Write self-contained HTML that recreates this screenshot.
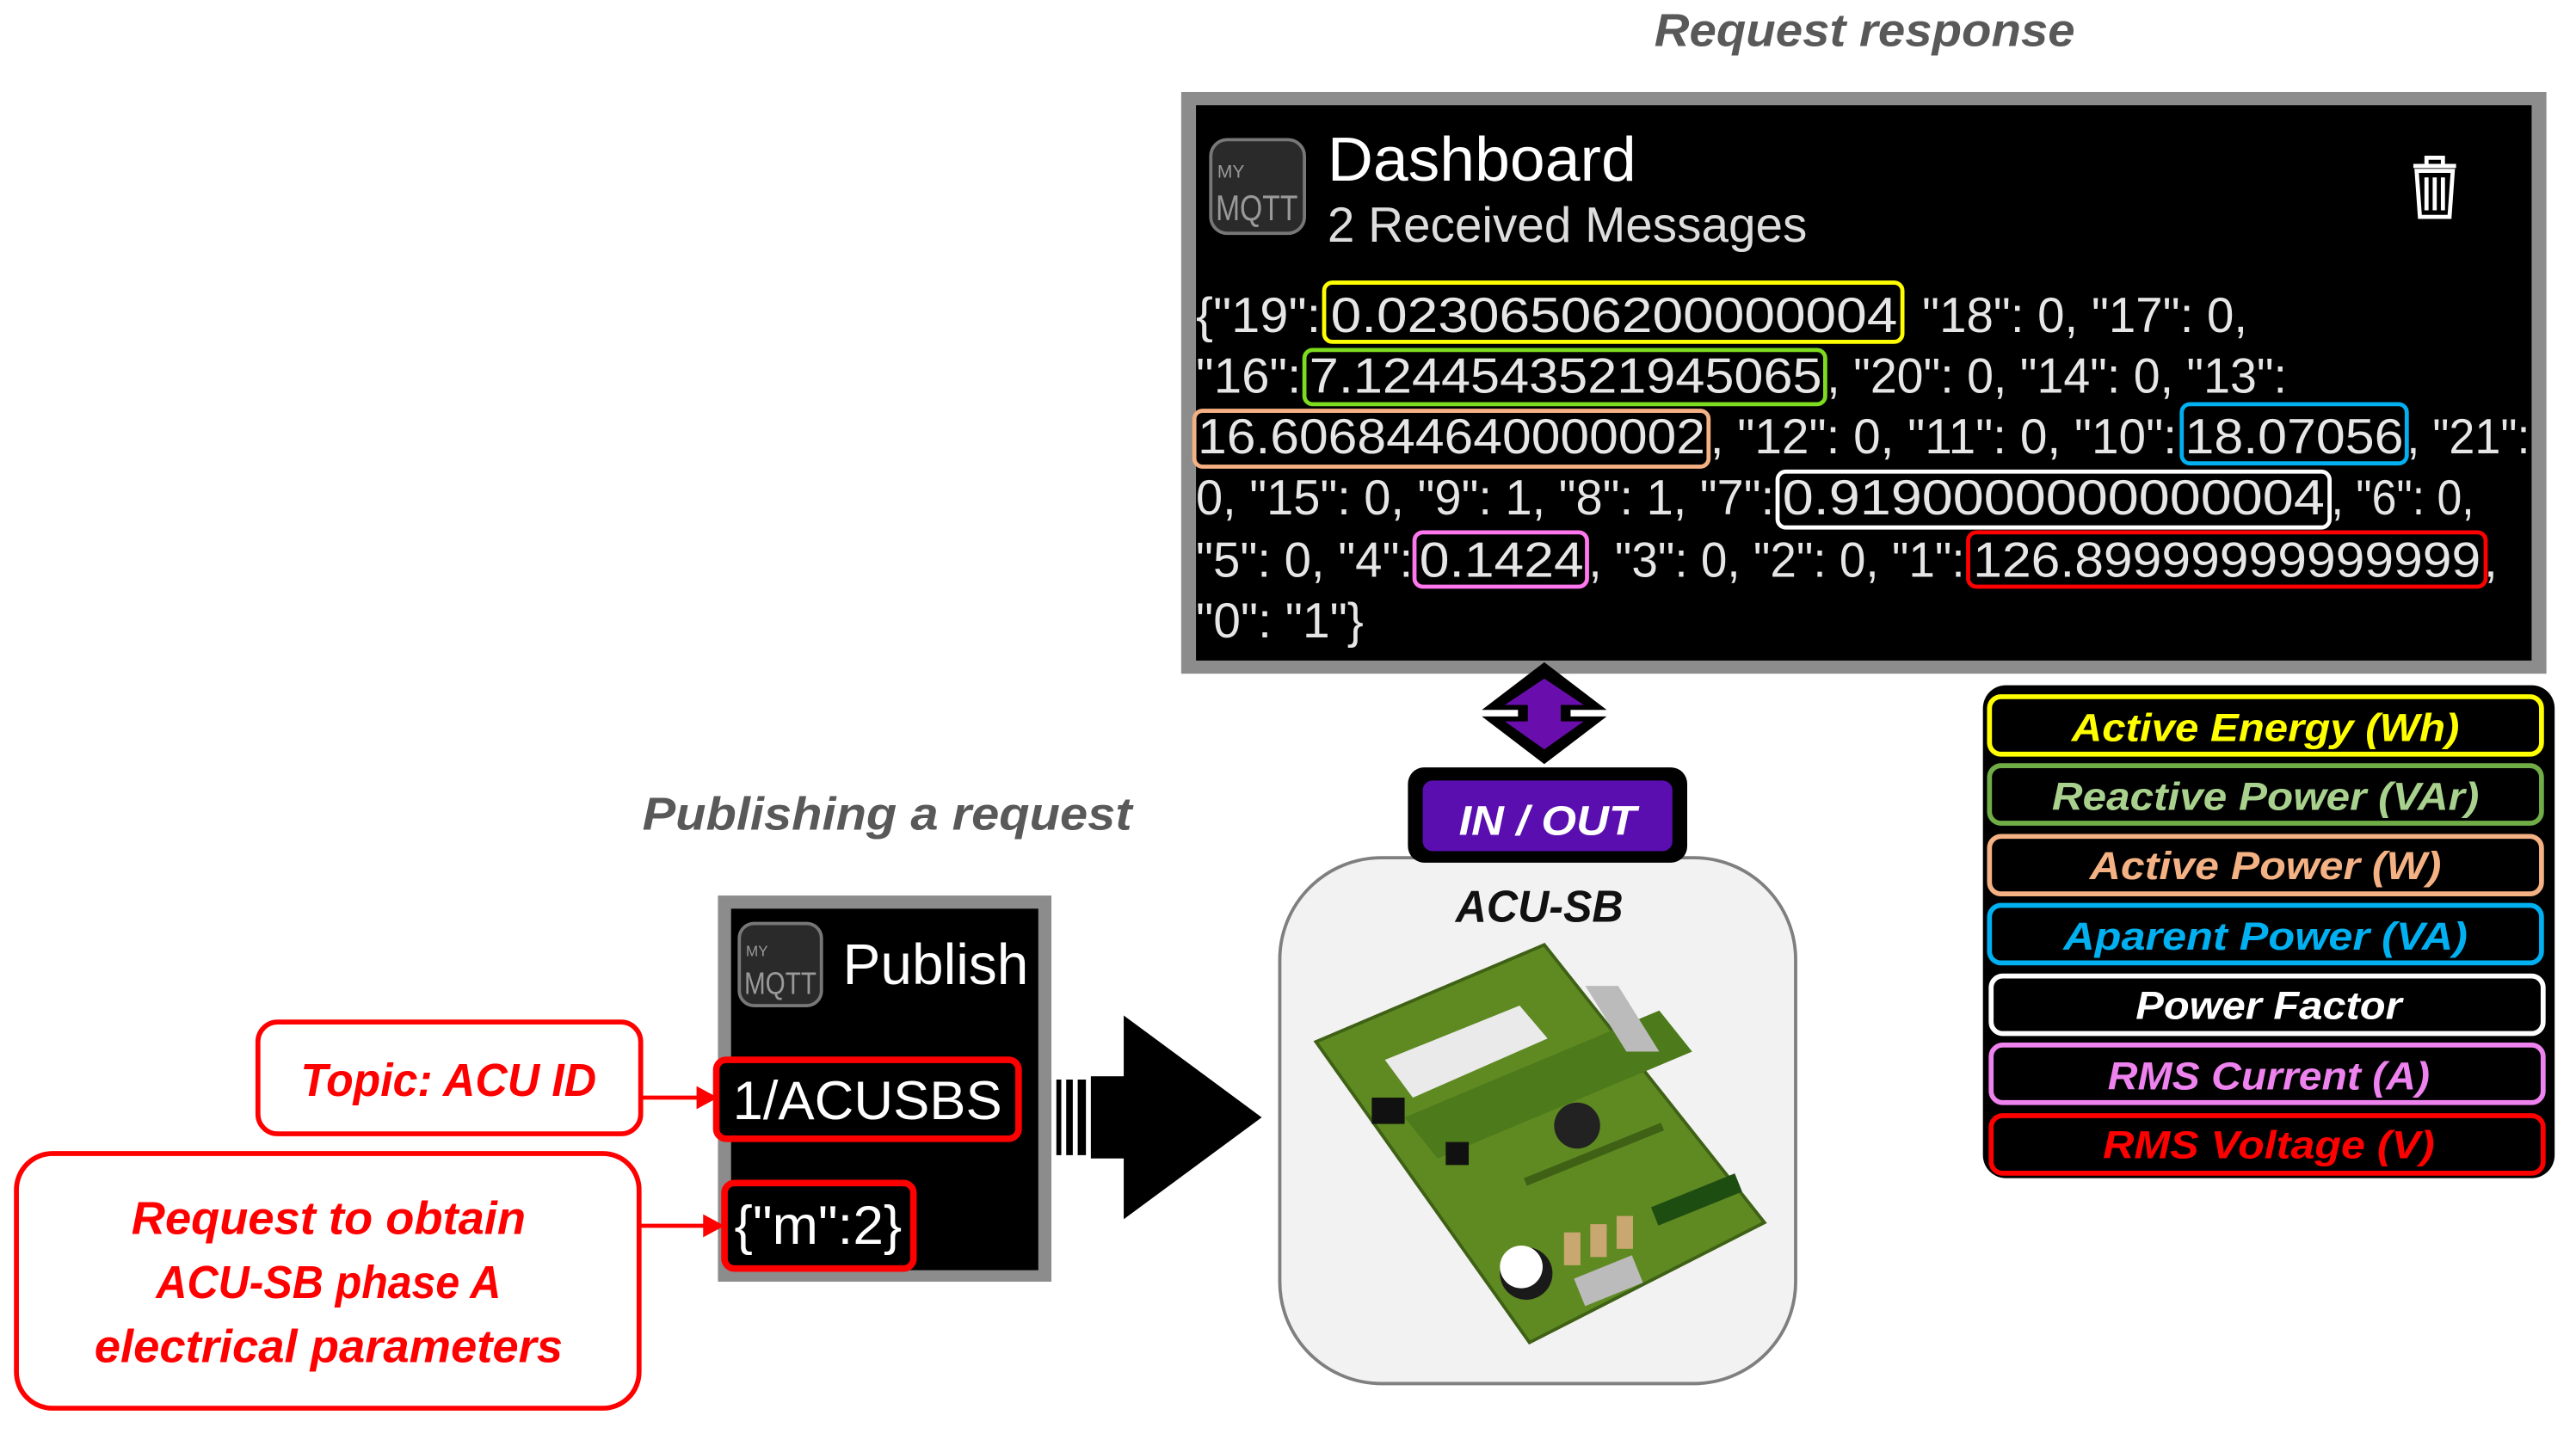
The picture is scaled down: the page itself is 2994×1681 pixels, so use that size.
<!DOCTYPE html>
<html><head><meta charset="utf-8"><style>
html,body{margin:0;padding:0;background:#fff;}
svg{display:block;}
.t{font-family:"Liberation Sans",sans-serif;}
.bi{font-family:"Liberation Sans",sans-serif;font-weight:bold;font-style:italic;}
.j{font-family:"Liberation Sans",sans-serif;font-size:30px;fill:#e6e6e6;}
</style></head><body>
<svg width="2994" height="1681" viewBox="0 0 1568 880" preserveAspectRatio="none" xmlns="http://www.w3.org/2000/svg">
<rect width="1568" height="880" fill="#fff"/>
<!-- Titles -->
<text class="bi" x="1135" y="28" font-size="28" fill="#595959" text-anchor="middle" textLength="256" lengthAdjust="spacingAndGlyphs">Request response</text>
<text class="bi" x="540" y="505" font-size="28" fill="#595959" text-anchor="middle" textLength="298" lengthAdjust="spacingAndGlyphs">Publishing a request</text>

<!-- Dashboard panel -->
<rect x="719" y="56" width="831" height="354" fill="#8c8c8c"/>
<rect x="728" y="64" width="813" height="338" fill="#000"/>
<rect x="737" y="85" width="57" height="57" rx="10" fill="#2a2a2a" stroke="#777" stroke-width="2"/>
<text class="t" x="741" y="108" font-size="11" fill="#999">MY</text>
<text class="t" x="740" y="134" font-size="22" fill="#999" textLength="50" lengthAdjust="spacingAndGlyphs">MQTT</text>
<text class="t" x="808" y="110" font-size="38" fill="#fff" textLength="188" lengthAdjust="spacingAndGlyphs">Dashboard</text>
<text class="t" x="808" y="147" font-size="30" fill="#ddd" textLength="292" lengthAdjust="spacingAndGlyphs">2 Received Messages</text>
<!-- trash -->
<g fill="none" stroke="#fff" stroke-width="2.5">
<path d="M1469 101 h26 M1477 101 v-5 h10 v5"/>
<path d="M1471 104 l2 28 h18 l2-28 z"/>
<path d="M1477 108 v20 M1482 108 v20 M1487 108 v20"/>
</g>
<!-- JSON -->
<g class="j">
<text x="728" y="202" textLength="76" lengthAdjust="spacingAndGlyphs">{"19":</text>
<text x="810" y="202" textLength="345" lengthAdjust="spacingAndGlyphs">0.02306506200000004</text>
<text x="1170" y="202" textLength="198" lengthAdjust="spacingAndGlyphs">"18": 0, "17": 0,</text>
<text x="728" y="239" textLength="64" lengthAdjust="spacingAndGlyphs">"16":</text>
<text x="797" y="239" textLength="312" lengthAdjust="spacingAndGlyphs">7.1244543521945065</text>
<text x="1112" y="239" textLength="280" lengthAdjust="spacingAndGlyphs">, "20": 0, "14": 0, "13":</text>
<text x="729" y="276" textLength="309" lengthAdjust="spacingAndGlyphs">16.606844640000002</text>
<text x="1041" y="276" textLength="284" lengthAdjust="spacingAndGlyphs">, "12": 0, "11": 0, "10":</text>
<text x="1330" y="276" textLength="133" lengthAdjust="spacingAndGlyphs">18.07056</text>
<text x="1465" y="276" textLength="75" lengthAdjust="spacingAndGlyphs">, "21":</text>
<text x="728" y="313" textLength="352" lengthAdjust="spacingAndGlyphs">0, "15": 0, "9": 1, "8": 1, "7":</text>
<text x="1085" y="313" textLength="330" lengthAdjust="spacingAndGlyphs">0.9190000000000004</text>
<text x="1419" y="313" textLength="87" lengthAdjust="spacingAndGlyphs">, "6": 0,</text>
<text x="728" y="351" textLength="132" lengthAdjust="spacingAndGlyphs">"5": 0, "4":</text>
<text x="864" y="351" textLength="100" lengthAdjust="spacingAndGlyphs">0.1424</text>
<text x="967" y="351" textLength="229" lengthAdjust="spacingAndGlyphs">, "3": 0, "2": 0, "1":</text>
<text x="1201" y="351" textLength="309" lengthAdjust="spacingAndGlyphs">126.89999999999999</text>
<text x="1512" y="351">,</text>
<text x="728" y="388" textLength="102" lengthAdjust="spacingAndGlyphs">"0": "1"}</text>
</g>
<g fill="none" stroke-width="2.5">
<rect x="806" y="172" width="352" height="36" rx="5" stroke="#ffff00"/>
<rect x="794" y="213" width="317" height="33" rx="5" stroke="#7ddc1f"/>
<rect x="727" y="250" width="313" height="34" rx="5" stroke="#f4b183"/>
<rect x="1328" y="246" width="137" height="36" rx="5" stroke="#00b0f0"/>
<rect x="1082" y="287" width="336" height="34" rx="5" stroke="#fff"/>
<rect x="861" y="324" width="105" height="33" rx="5" stroke="#ff77ee"/>
<rect x="1198" y="324" width="315" height="33" rx="5" stroke="#ff0000"/>
</g>

<!-- double arrow -->
<polygon points="940,403 978,432 956,432 956,436 978,436 940,465 902,436 924,436 924,432 902,432" fill="#000"/>
<polygon points="940,413 964,429 950,429 950,439 964,439 940,456 916,439 930,439 930,429 916,429" fill="#6a0dad"/>

<!-- ACU-SB box -->
<rect x="779" y="522" width="314" height="320" rx="62" fill="#f2f2f2" stroke="#7f7f7f" stroke-width="2"/>
<rect x="857" y="467" width="170" height="58" rx="10" fill="#000"/>
<rect x="866" y="475" width="152" height="43" rx="6" fill="#5a0eb0"/>
<text class="bi" x="942" y="508" font-size="25" fill="#fff" text-anchor="middle" textLength="108" lengthAdjust="spacingAndGlyphs">IN / OUT</text>
<text class="bi" x="937" y="561" font-size="27" fill="#111" text-anchor="middle" textLength="102" lengthAdjust="spacingAndGlyphs">ACU-SB</text>
<!-- PCB -->
<polygon points="801,634 940,575 1074,744 931,817" fill="#5f8a22" stroke="#3f6115" stroke-width="2"/>
<polygon points="843,645 925,612 942,632 860,668" fill="#eaeaea"/>
<polygon points="855,680 1010,615 1030,640 875,705" fill="#4d7a1a"/>
<rect x="925" y="700" width="90" height="5" fill="#3f6115" transform="rotate(-22 970 702)"/>
<circle cx="960" cy="685" r="14" fill="#222"/>
<rect x="835" y="668" width="20" height="16" fill="#111"/>
<rect x="880" y="695" width="14" height="14" fill="#111"/>
<rect x="1005" y="725" width="55" height="12" fill="#1e4d12" transform="rotate(-22 1030 730)"/>
<rect x="952" y="750" width="10" height="20" fill="#c9a770"/>
<rect x="968" y="745" width="10" height="20" fill="#c9a770"/>
<rect x="984" y="740" width="10" height="20" fill="#c9a770"/>
<rect x="960" y="770" width="38" height="18" fill="#bbb" transform="rotate(-22 980 779)"/>
<circle cx="929" cy="775" r="16" fill="#1a1a1a"/>
<circle cx="926" cy="771" r="13" fill="#fff"/>
<polygon points="965,600 990,640 1010,640 985,600" fill="#bbb"/>

<!-- Publish panel -->
<rect x="437" y="545" width="203" height="235" fill="#8c8c8c"/>
<rect x="445" y="553" width="187" height="220" fill="#000"/>
<rect x="450" y="562" width="50" height="50" rx="9" fill="#2a2a2a" stroke="#777" stroke-width="2"/>
<text class="t" x="454" y="582" font-size="9" fill="#999">MY</text>
<text class="t" x="453" y="605" font-size="19" fill="#999" textLength="44" lengthAdjust="spacingAndGlyphs">MQTT</text>
<text class="t" x="513" y="599" font-size="35" fill="#fff" textLength="113" lengthAdjust="spacingAndGlyphs">Publish</text>
<rect x="436" y="645" width="184" height="48" rx="6" fill="#000" stroke="#ff0000" stroke-width="4"/>
<text class="t" x="446" y="681" font-size="33" fill="#fff" textLength="164" lengthAdjust="spacingAndGlyphs">1/ACUSBS</text>
<rect x="441" y="720" width="115" height="52" rx="6" fill="#000" stroke="#ff0000" stroke-width="4"/>
<text class="t" x="447" y="757" font-size="33" fill="#fff" textLength="102" lengthAdjust="spacingAndGlyphs">{"m":2}</text>

<!-- big arrow -->
<rect x="643" y="657" width="3" height="46" fill="#000"/>
<rect x="649" y="657" width="4" height="46" fill="#000"/>
<rect x="656" y="657" width="5" height="46" fill="#000"/>
<rect x="664" y="655" width="26" height="50" fill="#000"/>
<polygon points="684,618 768,680 684,742" fill="#000"/>

<!-- Topic box -->
<rect x="157" y="622" width="233" height="68" rx="12" fill="#fff" stroke="#ff0000" stroke-width="3"/>
<text class="bi" x="273" y="667" font-size="28" fill="#ff0000" text-anchor="middle" textLength="180" lengthAdjust="spacingAndGlyphs">Topic: ACU ID</text>
<line x1="390" y1="668" x2="426" y2="668" stroke="#ff0000" stroke-width="2.5"/>
<polygon points="424,661 437,668 424,675" fill="#ff0000"/>
<!-- Request box -->
<rect x="10" y="702" width="379" height="155" rx="22" fill="#fff" stroke="#ff0000" stroke-width="3"/>
<g class="bi" font-size="28" fill="#ff0000" text-anchor="middle">
<text x="200" y="751" textLength="240" lengthAdjust="spacingAndGlyphs">Request to obtain</text>
<text x="200" y="790" textLength="210" lengthAdjust="spacingAndGlyphs">ACU-SB phase A</text>
<text x="200" y="829" textLength="285" lengthAdjust="spacingAndGlyphs">electrical parameters</text>
</g>
<line x1="390" y1="746" x2="430" y2="746" stroke="#ff0000" stroke-width="2.5"/>
<polygon points="428,739 441,746 428,753" fill="#ff0000"/>

<!-- Legend -->
<rect x="1207" y="417" width="348" height="300" rx="14" fill="#000"/>
<g fill="none" stroke-width="3">
<rect x="1211" y="424" width="336" height="35" rx="7" stroke="#ffff00"/>
<rect x="1211" y="466" width="336" height="35" rx="7" stroke="#70ad47"/>
<rect x="1211" y="509" width="336" height="35" rx="7" stroke="#f4b183"/>
<rect x="1211" y="551" width="336" height="35" rx="7" stroke="#00b0f0"/>
<rect x="1212" y="594" width="336" height="35" rx="7" stroke="#fff"/>
<rect x="1212" y="636" width="336" height="35" rx="7" stroke="#ee82ee"/>
<rect x="1212" y="679" width="336" height="35" rx="7" stroke="#ff0000"/>
</g>
<g class="bi" font-size="24" text-anchor="middle">
<text x="1379" y="451" fill="#ffff00" textLength="236" lengthAdjust="spacingAndGlyphs">Active Energy (Wh)</text>
<text x="1379" y="493" fill="#a9d18e" textLength="260" lengthAdjust="spacingAndGlyphs">Reactive Power (VAr)</text>
<text x="1379" y="535" fill="#f4b183" textLength="214" lengthAdjust="spacingAndGlyphs">Active Power (W)</text>
<text x="1379" y="578" fill="#00b0f0" textLength="246" lengthAdjust="spacingAndGlyphs">Aparent Power (VA)</text>
<text x="1381" y="620" fill="#fff" textLength="162" lengthAdjust="spacingAndGlyphs">Power Factor</text>
<text x="1381" y="663" fill="#ee82ee" textLength="196" lengthAdjust="spacingAndGlyphs">RMS Current (A)</text>
<text x="1381" y="705" fill="#ff0000" textLength="202" lengthAdjust="spacingAndGlyphs">RMS Voltage (V)</text>
</g>
</svg>
</body></html>
